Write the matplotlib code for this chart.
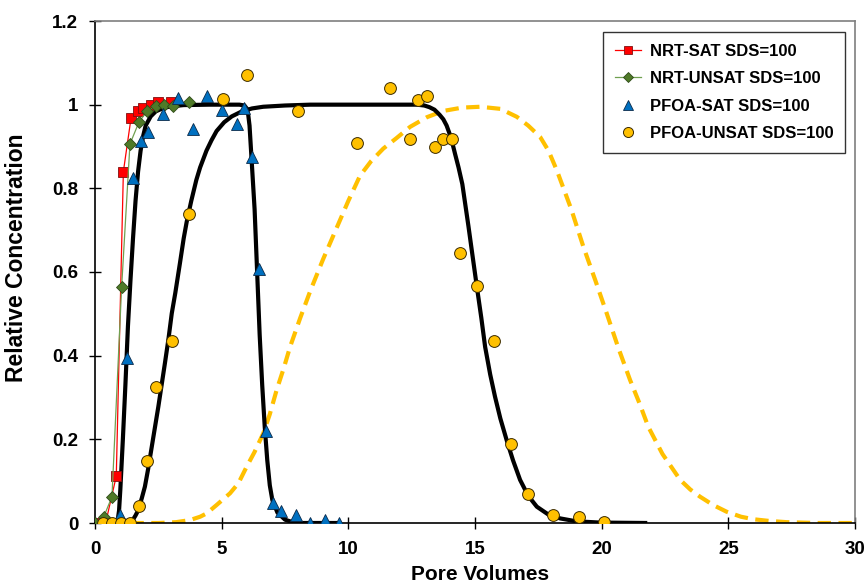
import matplotlib
matplotlib.use("Agg")
import matplotlib.pyplot as plt

plt.rcParams['font.family'] = ['Liberation Sans', 'DejaVu Sans']
plt.rcParams['font.weight'] = 'bold'

# ---- data ----
nrt_sat_x = [0.0, 0.42, 0.84, 1.12, 1.42, 1.68, 1.91, 2.2, 2.5, 3.0]
nrt_sat_y = [0.0, 0.0, 0.112, 0.84, 0.967, 0.985, 0.993, 1.0, 1.007, 1.007]

nrt_unsat_x = [0.0, 0.34, 0.67, 1.05, 1.38, 1.74, 2.07, 2.4, 2.72, 3.07, 3.72]
nrt_unsat_y = [0.0, 0.014, 0.063, 0.563, 0.906, 0.959, 0.985, 0.997, 1.0, 0.997, 1.007]

pfoa_sat_x = [0.3, 0.97, 1.25, 1.51, 1.82, 2.1, 2.67, 3.26, 3.86, 4.43, 5.03, 5.59, 5.88,
              6.18, 6.47, 6.75, 7.04, 7.33, 7.92, 8.49, 9.08, 9.65]
pfoa_sat_y = [0.0, 0.02, 0.394, 0.824, 0.913, 0.935, 0.977, 1.017, 0.943, 1.021, 0.988, 0.953,
              0.992, 0.874, 0.607, 0.221, 0.049, 0.029, 0.019, 0.0, 0.007, 0.0]

pfoa_unsat_x = [0.32, 0.67, 1.04, 1.37, 1.74, 2.07, 2.4, 3.05, 3.71, 5.04, 6.01, 8.0, 10.33,
                11.65, 12.44, 12.76, 13.09, 13.42, 13.75, 14.11, 14.41, 15.08, 15.75, 16.42,
                17.08, 18.08, 19.09, 20.08]
pfoa_unsat_y = [0.0, 0.0, 0.0, 0.0, 0.041, 0.149, 0.326, 0.436, 0.738, 1.013, 1.07, 0.984, 0.909,
                1.041, 0.918, 1.011, 1.02, 0.898, 0.918, 0.918, 0.646, 0.566, 0.436, 0.19,
                0.069, 0.019, 0.014, 0.003]

# fitted curve (PFOA-SAT)
fit_sat_x = [0.88, 0.95, 1.0, 1.1, 1.2, 1.3, 1.4, 1.5, 1.6, 1.7, 1.8, 1.9, 2.0, 2.2, 2.4,
             2.7, 3.0, 3.5, 4.5, 5.7, 5.9, 6.0, 6.05, 6.1, 6.15, 6.2, 6.3, 6.4, 6.5, 6.6,
             6.7, 6.8, 6.9, 7.0, 7.2, 7.5, 7.8, 8.2, 9.7]
fit_sat_y = [0.0, 0.03, 0.08, 0.2, 0.33, 0.47, 0.58, 0.68, 0.77, 0.84, 0.89, 0.925, 0.95,
             0.972, 0.984, 0.992, 0.996, 0.999, 1.0, 1.0, 0.998, 0.99, 0.975, 0.95, 0.9,
             0.85, 0.75, 0.6, 0.45, 0.33, 0.23, 0.15, 0.09, 0.055, 0.025, 0.008, 0.002,
             0.0, 0.0]

# fitted curve (PFOA-UNSAT)
fit_unsat_x = [1.38, 1.5, 1.6, 1.71, 1.85, 1.97, 2.1, 2.24, 2.37, 2.5, 2.63, 2.76, 2.9, 3.03,
               3.17, 3.35, 3.5, 3.62, 3.8, 4.0, 4.15, 4.4, 4.6, 4.8, 5.1, 5.4, 5.8, 6.2,
               6.64, 7.5, 8.5, 12.7, 13.0, 13.2, 13.4, 13.6, 13.75, 13.88, 14.0, 14.1,
               14.21, 14.35, 14.5, 14.62, 14.74, 14.9, 15.07, 15.25, 15.4, 15.6, 15.79,
               16.0, 16.25, 16.5, 16.78, 17.1, 17.44, 17.9, 18.36, 19.0, 19.94, 21.8]
fit_unsat_y = [0.0, 0.008, 0.018, 0.031, 0.06, 0.087, 0.13, 0.182, 0.23, 0.278, 0.33, 0.382,
               0.44, 0.501, 0.55, 0.62, 0.68, 0.72, 0.77, 0.82, 0.85, 0.89, 0.915, 0.937,
               0.958, 0.972, 0.984, 0.991, 0.995, 0.998, 1.0, 1.0, 0.998, 0.994, 0.988,
               0.976, 0.965, 0.95, 0.93, 0.91, 0.883, 0.85, 0.81, 0.76, 0.71, 0.64, 0.566,
               0.49, 0.421, 0.355, 0.302, 0.25, 0.198, 0.15, 0.103, 0.065, 0.039, 0.02,
               0.011, 0.004, 0.001, 0.0]

# predicted curve (yellow dashed)
pred_x = [1.4, 2.5, 3.2, 3.75, 4.15, 4.41, 4.8, 5.33, 5.66, 5.99, 6.3, 6.64, 6.9, 7.17, 7.45,
          7.7, 8.1, 8.5, 9.0, 9.5, 10.0, 10.46, 10.9, 11.38, 11.9, 12.44, 13.1, 13.75, 14.5,
          15.2, 16.0, 16.65, 17.1, 17.57, 17.9, 18.23, 18.8, 19.28, 19.75, 20.2, 20.65,
          21.12, 21.5, 21.84, 22.4, 23.1, 23.5, 23.88, 24.4, 24.93, 25.5, 25.99, 26.6, 27.3,
          28.5, 29.9]
pred_y = [0.0, 0.0, 0.002, 0.007, 0.015, 0.023, 0.043, 0.071, 0.095, 0.135, 0.17, 0.214, 0.26,
          0.318, 0.37, 0.421, 0.49, 0.555, 0.63, 0.7, 0.77, 0.83, 0.865, 0.895, 0.92, 0.947,
          0.97, 0.985, 0.993, 0.995, 0.99, 0.971, 0.95, 0.923, 0.89, 0.843, 0.75, 0.66, 0.58,
          0.501, 0.42, 0.342, 0.285, 0.23, 0.165, 0.103, 0.08, 0.063, 0.043, 0.027, 0.015,
          0.009, 0.005, 0.002, 0.0, 0.0]

x_ticks = [0, 5, 10, 15, 20, 25, 30]
y_ticks = [0, 0.2, 0.4, 0.6, 0.8, 1.0, 1.2]
y_tick_labels = ['0', '0.2', '0.4', '0.6', '0.8', '1', '1.2']

# ---- figure ----
fig = plt.figure(figsize=(8.66, 5.84), dpi=100)
ax = fig.add_axes([95/866, 61/584, 760/866, 502/584])

ax.plot(pred_x, pred_y, color='#FFC000', lw=3.0, ls=(0, (3.2, 1.8)), zorder=2,
        solid_joinstyle='round', dash_joinstyle='round')
ax.plot(fit_sat_x, fit_sat_y, color='black', lw=3.0, zorder=3,
        solid_joinstyle='round', solid_capstyle='butt')
ax.plot(fit_unsat_x, fit_unsat_y, color='black', lw=3.0, zorder=3,
        solid_joinstyle='round', solid_capstyle='butt')

ax.plot(nrt_sat_x, nrt_sat_y, color='#FF0000', lw=0.9, marker='s', ms=7.5,
        mfc='#FF0000', mec='#7F1010', mew=0.6, zorder=4, label='NRT-SAT SDS=100')
ax.plot(nrt_unsat_x, nrt_unsat_y, color='#70A050', lw=0.9, marker='D', ms=6.5,
        mfc='#4F7A28', mec='#2E4A18', mew=0.6, zorder=4, label='NRT-UNSAT SDS=100')
ax.plot(pfoa_sat_x, pfoa_sat_y, ls='none', marker='^', ms=9,
        mfc='#0070C0', mec='#0A2A4A', mew=0.6, zorder=5, label='PFOA-SAT SDS=100')
ax.plot(pfoa_unsat_x, pfoa_unsat_y, ls='none', marker='o', ms=8.5,
        mfc='#FFC000', mec='#3A2A00', mew=0.7, zorder=5, label='PFOA-UNSAT SDS=100')

ax.set_xlim(0, 30)
ax.set_ylim(0, 1.2)
ax.set_xticks(x_ticks)
ax.set_xticklabels([str(v) for v in x_ticks])
ax.set_yticks(y_ticks)
ax.set_yticklabels(y_tick_labels)
ax.tick_params(direction='inout', length=8, width=1.0, labelsize=13.5)
ax.tick_params(axis='x', pad=9)
ax.tick_params(axis='y', pad=8)
for lab in ax.get_xticklabels() + ax.get_yticklabels():
    lab.set_fontweight('bold')

ax.spines['left'].set_color('black')
ax.spines['bottom'].set_color('black')
ax.spines['top'].set_color('#7F7F7F')
ax.spines['right'].set_color('#7F7F7F')
for s in ax.spines.values():
    s.set_linewidth(1.2)

ax.set_xlabel('Pore Volumes', fontsize=15, fontweight='bold')
ax.xaxis.set_label_coords((480 - 95) / 760, -(565 - 523) / 502)
ax.set_ylabel('Relative Concentration', fontsize=16.5, fontweight='bold')
ax.yaxis.set_label_coords(-(95 - 28) / 760, (523 - 258) / 502)

leg = ax.legend(loc='upper right', bbox_to_anchor=((845 - 95) / 760, 1 - 11 / 502),
                bbox_transform=ax.transAxes, frameon=True, fancybox=False,
                edgecolor='black', prop={'weight': 'bold', 'size': 12},
                handlelength=1.6, handletextpad=0.5, labelspacing=0.75, borderpad=0.7,
                borderaxespad=0, markerscale=0.85)
leg.get_frame().set_linewidth(1.0)

fig.savefig('out.png', dpi=100)
